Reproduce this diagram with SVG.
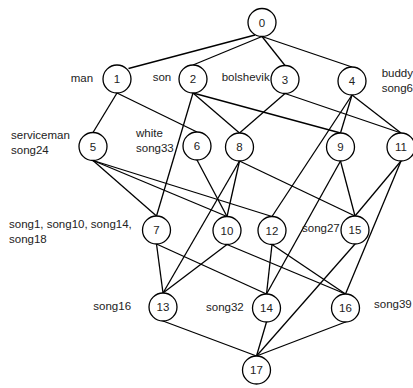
<svg xmlns="http://www.w3.org/2000/svg" width="413" height="388" viewBox="0 0 413 388">
<style>
  .n circle { fill: #fff; stroke: #000; stroke-width: 1.3; }
  .n text { font-family: "Liberation Sans", Arial, sans-serif; font-size: 11.5px; fill: #222; text-anchor: middle; }
  .lbl { font-family: "Liberation Sans", Arial, sans-serif; font-size: 11.5px; fill: #222; }
  #edges line { stroke: #000; stroke-width: 1.3; }
</style>
<rect width="413" height="388" fill="#fff"/>
<g id="edges">
  <line x1="255" y1="35" x2="128.5" y2="68.5"/>
  <line x1="262" y1="36.5" x2="193" y2="65"/>
  <line x1="262" y1="36.5" x2="285" y2="65.5"/>
  <line x1="262" y1="36.5" x2="352" y2="67"/>
  <line x1="117" y1="93" x2="93" y2="132.5"/>
  <line x1="117" y1="93" x2="197" y2="132"/>
  <line x1="193" y1="93" x2="156.5" y2="216"/>
  <line x1="193" y1="93" x2="239.5" y2="133"/>
  <line x1="193" y1="93" x2="340.5" y2="133"/>
  <line x1="285" y1="93.5" x2="239.5" y2="133"/>
  <line x1="285" y1="93.5" x2="401" y2="133"/>
  <line x1="352" y1="95" x2="340.5" y2="133"/>
  <line x1="352" y1="95" x2="401" y2="133"/>
  <line x1="352" y1="95" x2="272" y2="216.5"/>
  <line x1="93" y1="160.5" x2="156.5" y2="216"/>
  <line x1="93" y1="160.5" x2="227" y2="216.5"/>
  <line x1="93" y1="160.5" x2="272" y2="216.5"/>
  <line x1="197" y1="160" x2="227" y2="216.5"/>
  <line x1="239.5" y1="161" x2="227" y2="216.5"/>
  <line x1="239.5" y1="161" x2="163" y2="293"/>
  <line x1="239.5" y1="161" x2="355" y2="216"/>
  <line x1="340.5" y1="161" x2="266.5" y2="294"/>
  <line x1="340.5" y1="161" x2="355" y2="216"/>
  <line x1="401" y1="161" x2="355" y2="216"/>
  <line x1="401" y1="161" x2="345.5" y2="294"/>
  <line x1="156.5" y1="244" x2="163" y2="293"/>
  <line x1="156.5" y1="244" x2="266.5" y2="294"/>
  <line x1="227" y1="244.5" x2="163" y2="293"/>
  <line x1="227" y1="244.5" x2="345.5" y2="294"/>
  <line x1="272" y1="244.5" x2="266.5" y2="294"/>
  <line x1="272" y1="244.5" x2="345.5" y2="294"/>
  <line x1="163" y1="321" x2="256.5" y2="356"/>
  <line x1="266.5" y1="322" x2="256.5" y2="356"/>
  <line x1="355" y1="244" x2="256.5" y2="356"/>
  <line x1="345.5" y1="322" x2="256.5" y2="356"/>
</g>
<g id="node0" class="n"><circle cx="262" cy="22.5" r="14"/><text x="262" y="26.6">0</text></g>
<g id="node1" class="n"><circle cx="117" cy="79" r="14"/><text x="117" y="83.1">1</text></g>
<g id="node2" class="n"><circle cx="193" cy="79" r="14"/><text x="193" y="83.1">2</text></g>
<g id="node3" class="n"><circle cx="285" cy="79.5" r="14"/><text x="285" y="83.6">3</text></g>
<g id="node4" class="n"><circle cx="352" cy="81" r="14"/><text x="352" y="85.1">4</text></g>
<g id="node5" class="n"><circle cx="93" cy="146.5" r="14"/><text x="93" y="150.6">5</text></g>
<g id="node6" class="n"><circle cx="197" cy="146" r="14"/><text x="197" y="150.1">6</text></g>
<g id="node8" class="n"><circle cx="239.5" cy="147" r="14"/><text x="239.5" y="151.1">8</text></g>
<g id="node9" class="n"><circle cx="340.5" cy="147" r="14"/><text x="340.5" y="151.1">9</text></g>
<g id="node11" class="n"><circle cx="401" cy="147" r="14"/><text x="401" y="151.1">11</text></g>
<g id="node7" class="n"><circle cx="156.5" cy="230" r="14"/><text x="156.5" y="234.1">7</text></g>
<g id="node10" class="n"><circle cx="227" cy="230.5" r="14"/><text x="227" y="234.6">10</text></g>
<g id="node12" class="n"><circle cx="272" cy="230.5" r="14"/><text x="272" y="234.6">12</text></g>
<g id="node15" class="n"><circle cx="355" cy="230" r="14"/><text x="355" y="234.1">15</text></g>
<g id="node13" class="n"><circle cx="163" cy="307" r="14"/><text x="163" y="311.1">13</text></g>
<g id="node14" class="n"><circle cx="266.5" cy="308" r="14"/><text x="266.5" y="312.1">14</text></g>
<g id="node16" class="n"><circle cx="345.5" cy="308" r="14"/><text x="345.5" y="312.1">16</text></g>
<g id="node17" class="n"><circle cx="256.5" cy="370" r="14"/><text x="256.5" y="374.1">17</text></g>
<g id="labels">
  <text class="lbl" x="70.7" y="82">man</text>
  <text class="lbl" x="152.7" y="81">son</text>
  <text class="lbl" x="221.7" y="81">bolshevik</text>
  <text class="lbl" x="381.7" y="77">buddy</text>
  <text class="lbl" x="381.7" y="92">song6</text>
  <text class="lbl" x="11" y="139">serviceman</text>
  <text class="lbl" x="11" y="154">song24</text>
  <text class="lbl" x="136" y="136.5">white</text>
  <text class="lbl" x="136" y="151.5">song33</text>
  <text class="lbl" x="9" y="228">song1, song10, song14,</text>
  <text class="lbl" x="9" y="242.5">song18</text>
  <text class="lbl" x="302" y="231.5">song27</text>
  <text class="lbl" x="93.3" y="310">song16</text>
  <text class="lbl" x="206" y="310.5">song32</text>
  <text class="lbl" x="374" y="308">song39</text>
</g>
</svg>
